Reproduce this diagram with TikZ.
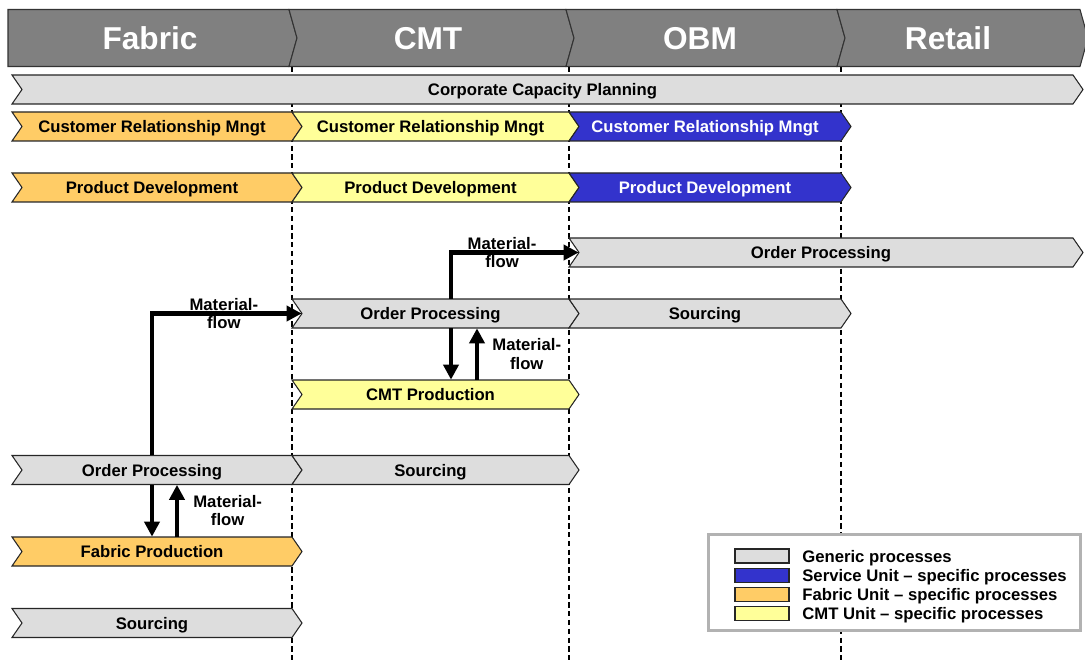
\documentclass[tikz,border=0pt]{standalone}
\usepackage{fontspec}
\setmainfont{Liberation Sans}
\usetikzlibrary{arrows.meta,calc}

\definecolor{genGray}{HTML}{DDDDDD}
\definecolor{fabOrange}{HTML}{FFCC66}
\definecolor{cmtYellow}{HTML}{FFFF99}
\definecolor{srvBlue}{HTML}{3333CC}
\definecolor{headGray}{HTML}{808080}

% [text colour]{name}{fill}{left}{right}{y centre}{label}
\newcommand{\procbar}[7][black]{%
  \draw[bar, fill=#3] (#4,#6-14.5) -- (#5,#6-14.5) -- (#5+10,#6) -- (#5,#6+14.5)
    -- (#4,#6+14.5) -- (#4+10,#6) -- cycle;
  \node[barlabel, text=#1, minimum width={(#5-#4)*0.02cm}] (#2) at ({(#4+#5)/2},#6) {#7};
}

\begin{document}
\begin{tikzpicture}[x=0.02cm, y=-0.02cm]
    \tikzset{
      bar/.style={draw=black!85, line width=0.6pt},
      barlabel/.style={inner sep=0pt, minimum height=0.58cm, text depth=0pt,
        font=\bfseries\fontsize{9.5}{10.5}\selectfont},
      head/.style={draw=black!80, fill=headGray, line width=0.6pt},
      headlabel/.style={text=white, text depth=0pt, font=\bfseries\fontsize{18}{20}\selectfont},
      flow/.style={line width=2.6pt, -{Triangle[length=8.5pt,width=8.5pt]}},
      flowlabel/.style={align=center, inner sep=1pt,
        font=\bfseries\fontsize{9.5}{10.3}\selectfont},
      divider/.style={line width=1.1pt, dash pattern=on 3pt off 2pt},
      swatch/.style={draw=black!85, line width=0.6pt, inner sep=0pt,
        minimum width=1.08cm, minimum height=0.28cm},
      legendtext/.style={anchor=west, inner sep=0pt, text depth=0pt,
        font=\bfseries\fontsize{9.5}{10.5}\selectfont}
    }
    \useasboundingbox (0,0) rectangle (1085,662);

    % unit boundaries
    \foreach \x in {292,569,841}{
	\draw[divider] (\x,66.5) -- (\x,662);
    }

    % header
    \draw[head] (8,9.5) -- (289,9.5) -- (297,38) -- (289,66.5) -- (8,66.5) -- cycle;
    \foreach \l/\r in {289/566, 566/837, 837/1080}{
	\draw[head] (\l,9.5) -- (\r,9.5) -- (\r+8,38) -- (\r,66.5) -- (\l,66.5) -- (\l+8,38) -- cycle;
    }
    \foreach \x/\t in {150/Fabric, 428/CMT, 700/OBM, 948/Retail}{
	\node[headlabel] (h\t) at (\x,38) {\t};
    }

    % processes
    \procbar{ccp}{genGray}{12}{1073}{89.5}{Corporate Capacity Planning}
    \procbar{crmF}{fabOrange}{12}{292}{126.5}{Customer Relationship Mngt}
    \procbar{crmC}{cmtYellow}{292}{569}{126.5}{Customer Relationship Mngt}
    \procbar[white]{crmO}{srvBlue}{569}{841}{126.5}{Customer Relationship Mngt}
    \procbar{pdF}{fabOrange}{12}{292}{187.5}{Product Development}
    \procbar{pdC}{cmtYellow}{292}{569}{187.5}{Product Development}
    \procbar[white]{pdO}{srvBlue}{569}{841}{187.5}{Product Development}
    \procbar{opO}{genGray}{569}{1073}{252.5}{Order Processing}
    \procbar{opC}{genGray}{292}{569}{313.5}{Order Processing}
    \procbar{srcO}{genGray}{569}{841}{313.5}{Sourcing}
    \procbar{prodC}{cmtYellow}{292}{569}{394.5}{CMT Production}
    \procbar{opF}{genGray}{12}{292}{470}{Order Processing}
    \procbar{srcC}{genGray}{292}{569}{470}{Sourcing}
    \procbar{prodF}{fabOrange}{12}{292}{551.5}{Fabric Production}
    \procbar{srcF}{genGray}{12}{292}{623}{Sourcing}

    % material flow
    \draw[flow] (opF.north) |- node[flowlabel, pos=0.74] (mf1) {Material-\\flow} ($(opC.west)+(10,0)$);
    \draw[flow] ($(opC.north)+(20.5,0)$) |- node[flowlabel, pos=0.70] (mf2) {Material-\\flow} ($(opO.west)+(10,0)$);
    \draw[flow] ($(opC.south)+(20.5,0)$) -- ($(prodC.north)+(20.5,0)$);
    \draw[flow] ($(prodC.north)+(46.5,0)$) -- node[flowlabel, right=6.5pt] (mf3) {Material-\\flow} ($(opC.south)+(46.5,0)$);
    \draw[flow] (opF.south) -- (prodF.north);
    \draw[flow] ($(prodF.north)+(25,0)$) -- node[flowlabel, right=7pt] (mf4) {Material-\\flow} ($(opF.south)+(25,0)$);

    % legend
    \node[draw=black!30, line width=1.7pt, fill=white, minimum width=7.44cm, minimum height=1.92cm] (legend) at (894.5,582.5) {};
    \foreach \c/\t [count=\i] in {genGray/Generic processes, srvBlue/Service Unit \textendash{} specific processes, fabOrange/Fabric Unit \textendash{} specific processes, cmtYellow/CMT Unit \textendash{} specific processes}{
	\node[swatch, fill=\c] (sw\i) at (762,{556+19.3*(\i-1)}) {};
	\node[legendtext] (lt\i) at (802,{556+19.3*(\i-1)}) {\t};
    }
\end{tikzpicture}
\end{document}
